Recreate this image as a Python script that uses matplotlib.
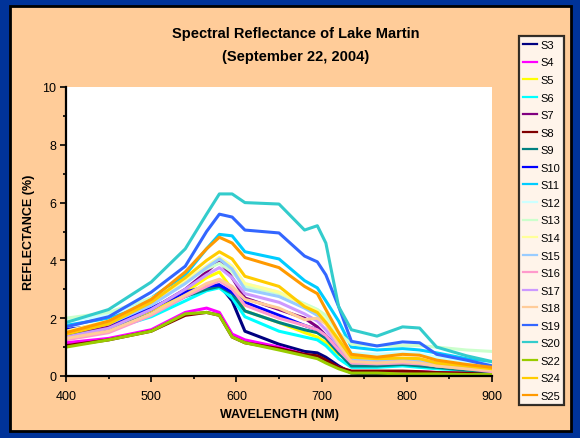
import matplotlib
matplotlib.use("Agg")
import matplotlib.pyplot as plt
from matplotlib.patches import Rectangle
from matplotlib.ticker import MultipleLocator

plt.rcParams["font.family"] = ["Liberation Sans", "DejaVu Sans"]

# ==========================================
# DATA
# ==========================================

wavelength = [400, 450, 500, 540, 565, 580, 595, 610, 650, 680,
              695, 705, 720, 735, 765, 795, 815, 835, 870, 900]

sites = ["S3", "S4", "S5", "S6", "S7", "S8", "S9", "S10", "S11", "S12",
         "S13", "S14", "S15", "S16", "S17", "S18", "S19", "S20", "S22",
         "S24", "S25"]

s3 = [1.6, 1.75, 2.25, 2.85, 3.1, 3.15, 2.6, 1.55, 1.1, 0.85, 0.8, 0.65, 0.35, 0.1, 0.05, 0.1, 0.08, 0.05, 0.05, 0.05]
s4 = [1.15, 1.3, 1.6, 2.2, 2.35, 2.2, 1.45, 1.25, 1.0, 0.75, 0.65, 0.5, 0.3, 0.15, 0.15, 0.15, 0.15, 0.12, 0.1, 0.1]
s5 = [1.35, 1.6, 2.2, 2.9, 3.4, 3.6, 3.0, 2.25, 1.85, 1.5, 1.35, 1.15, 0.75, 0.55, 0.5, 0.55, 0.5, 0.4, 0.3, 0.15]
s6 = [1.45, 1.6, 2.05, 2.6, 2.95, 3.05, 2.7, 2.05, 1.55, 1.35, 1.25, 1.05, 0.6, 0.3, 0.3, 0.35, 0.3, 0.25, 0.2, 0.15]
s7 = [1.4, 1.7, 2.3, 3.0, 3.6, 4.0, 3.4, 2.7, 2.3, 2.0, 1.7, 1.4, 0.9, 0.5, 0.45, 0.5, 0.48, 0.4, 0.3, 0.2]
s8 = [1.05, 1.25, 1.55, 2.1, 2.2, 2.1, 1.35, 1.15, 0.95, 0.75, 0.7, 0.55, 0.3, 0.17, 0.17, 0.17, 0.15, 0.12, 0.1, 0.08]
s9 = [1.4, 1.6, 2.15, 2.75, 3.0, 3.1, 2.85, 2.25, 1.85, 1.6, 1.5, 1.3, 0.8, 0.35, 0.35, 0.4, 0.35, 0.3, 0.2, 0.15]
s10 = [1.6, 1.8, 2.35, 2.9, 3.1, 3.15, 2.9, 2.55, 2.1, 1.75, 1.6, 1.4, 0.9, 0.55, 0.55, 0.6, 0.55, 0.45, 0.35, 0.2]
s11 = [1.75, 2.0, 2.7, 3.5, 4.4, 4.9, 4.85, 4.3, 4.05, 3.3, 3.05, 2.6, 1.9, 1.0, 0.9, 0.95, 0.9, 0.8, 0.6, 0.45]
s12 = [1.9, 2.1, 2.6, 3.3, 3.8, 4.1, 3.8, 3.2, 2.9, 2.5, 2.3, 2.0, 1.4, 0.8, 0.75, 0.8, 0.78, 0.65, 0.5, 0.4]
s13 = [2.0, 2.2, 2.7, 3.3, 3.7, 3.9, 3.6, 3.1, 2.85, 2.5, 2.3, 2.1, 1.5, 1.1, 1.05, 1.05, 1.05, 1.0, 0.9, 0.85]
s14 = [1.55, 1.9, 2.55, 3.3, 3.8, 4.1, 3.8, 3.2, 2.9, 2.45, 2.25, 1.9, 1.3, 0.6, 0.55, 0.6, 0.58, 0.45, 0.35, 0.25]
s15 = [1.5, 1.8, 2.45, 3.2, 3.75, 4.05, 3.7, 3.0, 2.75, 2.35, 2.1, 1.85, 1.2, 0.55, 0.5, 0.55, 0.5, 0.4, 0.3, 0.2]
s16 = [1.25, 1.5, 2.1, 2.75, 3.1, 3.3, 3.0, 2.45, 2.0, 1.75, 1.6, 1.4, 0.9, 0.45, 0.42, 0.45, 0.42, 0.35, 0.25, 0.15]
s17 = [1.35, 1.65, 2.3, 3.0, 3.5, 3.75, 3.4, 2.85, 2.55, 2.15, 1.9, 1.6, 1.05, 0.5, 0.45, 0.5, 0.45, 0.35, 0.3, 0.2]
s18 = [1.3, 1.55, 2.15, 2.8, 3.2, 3.35, 3.1, 2.65, 2.35, 1.95, 2.0, 1.8, 1.1, 0.5, 0.45, 0.5, 0.45, 0.35, 0.25, 0.2]
s19 = [1.7, 2.05, 2.9, 3.8, 5.0, 5.6, 5.5, 5.05, 4.95, 4.15, 3.95, 3.5, 2.4, 1.2, 1.04, 1.18, 1.15, 0.75, 0.55, 0.35]
s20 = [1.85, 2.3, 3.25, 4.4, 5.6, 6.3, 6.3, 6.0, 5.95, 5.05, 5.2, 4.6, 2.4, 1.6, 1.38, 1.7, 1.66, 1.0, 0.7, 0.5]
s22 = [1.0, 1.25, 1.55, 2.15, 2.2, 2.1, 1.35, 1.15, 0.9, 0.7, 0.6, 0.45, 0.25, 0.1, 0.1, 0.07, 0.07, 0.07, 0.05, 0.05]
s24 = [1.45, 1.8, 2.55, 3.4, 4.0, 4.3, 4.05, 3.45, 3.1, 2.4, 2.2, 1.85, 1.25, 0.65, 0.6, 0.62, 0.6, 0.45, 0.35, 0.25]
s25 = [1.5, 1.9, 2.65, 3.6, 4.4, 4.8, 4.6, 4.1, 3.75, 3.1, 2.85, 2.3, 1.5, 0.75, 0.65, 0.75, 0.72, 0.55, 0.4, 0.3]

series = [s3, s4, s5, s6, s7, s8, s9, s10, s11, s12, s13, s14, s15,
          s16, s17, s18, s19, s20, s22, s24, s25]

colors = ["#000080", "#FF00FF", "#FFFF00", "#00FFFF", "#800080", "#800000",
          "#008080", "#0000FF", "#00CCFF", "#CCFFFF", "#CCFFCC", "#FFFF99",
          "#99CCFF", "#FF99CC", "#CC99FF", "#FFCC99", "#3366FF", "#33CCCC",
          "#99CC00", "#FFCC00", "#FF9900"]

# ==========================================
# FIGURE
# ==========================================

fig = plt.figure(figsize=(5.8, 4.39), dpi=100)
fig.patch.set_facecolor("#003399")

W, H = 580, 439
panel = Rectangle((10 / W, 1 - 432 / H), 561 / W, 425 / H,
                  transform=fig.transFigure, facecolor="#FFCC99",
                  edgecolor="black", linewidth=2, zorder=-10)
fig.patches.append(panel)

ax = fig.add_axes([66 / W, 1 - 377 / H, 426 / W, 289 / H])
ax.set_facecolor("white")

for name, vals, c in zip(sites, series, colors):
    ax.plot(wavelength, vals, color=c, linewidth=2.2, label=name)

ax.set_xlim(400, 900)
ax.set_ylim(0, 10)
ax.xaxis.set_major_locator(MultipleLocator(100))
ax.xaxis.set_minor_locator(MultipleLocator(50))
ax.yaxis.set_major_locator(MultipleLocator(2))
ax.yaxis.set_minor_locator(MultipleLocator(1))
ax.tick_params(axis="both", which="major", direction="out", length=4,
               width=1.2, labelsize=9, pad=3)
ax.tick_params(axis="both", which="minor", direction="out", length=2.5,
               width=1.2)
ax.tick_params(axis="x", pad=6)

for side in ["top", "right"]:
    ax.spines[side].set_visible(False)
for side in ["left", "bottom"]:
    ax.spines[side].set_linewidth(1.6)

fig.text(296 / W, 1 - 34 / H, "Spectral Reflectance of Lake Martin",
         ha="center", va="center", fontsize=10.5, fontweight="bold")
fig.text(296 / W, 1 - 57 / H, "(September 22, 2004)",
         ha="center", va="center", fontsize=10.5, fontweight="bold")
fig.text(279 / W, 1 - 415 / H, "WAVELENGTH (NM)",
         ha="center", va="center", fontsize=9, fontweight="bold")
fig.text(29 / W, 1 - 232 / H, "REFLECTANCE (%)", rotation=90,
         ha="center", va="center", fontsize=9, fontweight="bold")

leg = fig.legend(loc="upper left", bbox_to_anchor=(519 / W, 1 - 37 / H),
                 frameon=True, fancybox=False, fontsize=8,
                 handlelength=1.3, handletextpad=0.25, labelspacing=0.68,
                 borderpad=0.35, borderaxespad=0)
leg.get_frame().set_edgecolor("black")
leg.get_frame().set_linewidth(1.6)
leg.get_frame().set_facecolor("white")
for line in leg.get_lines():
    line.set_linewidth(1.6)

fig.savefig("out.png", dpi=100, facecolor=fig.get_facecolor())
